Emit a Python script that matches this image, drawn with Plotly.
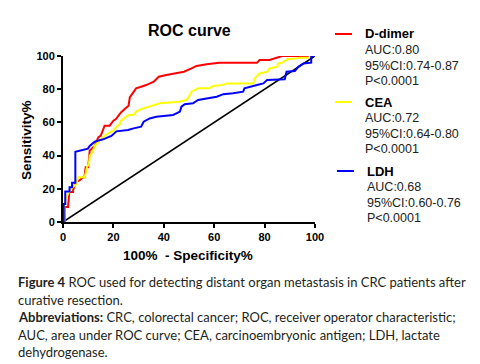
import plotly.graph_objects as go

# ---- data ----
ddimer_x = [0, 0.7, 0.7, 2, 2.5, 4, 4, 5, 6.5, 8, 8.5, 9, 10, 10.3, 10.6, 12.6, 14, 15, 16.5, 18.5, 20, 21, 22, 23,
            24.5, 26, 26.5, 28, 29, 31, 33, 36, 38, 41, 45, 48, 51, 53, 57, 62, 77, 78, 82, 84, 87, 97.5]
ddimer_y = [0, 0, 9, 9, 18, 18, 19, 24, 25, 27, 27, 33, 33, 39, 43, 46, 51, 52, 58, 58, 61, 62, 64, 66,
            68, 70, 75, 78, 80.5, 81.5, 82.5, 84.5, 87.5, 88.5, 89.5, 90.5, 92.5, 94, 95, 96, 96, 97.6, 97.6, 98.6, 100, 100]

cea_x = [0, 0.5, 0.5, 1, 2, 3.3, 5.3, 6, 8.6, 9.5, 10.3, 10.6, 11.7, 12.6, 14.6, 16.5, 18.5, 20, 21, 22.5, 23, 24.5,
         26, 28, 29, 31, 34, 36, 38.5, 46, 49, 50, 51, 53.6, 58, 59.6, 63.6, 65, 75.5, 76, 78, 81, 82, 85, 85.4, 87,
         89, 93, 94, 97.5]
cea_y = [0, 0, 10, 14, 17, 20, 23, 27, 27, 33, 35, 40, 42, 46, 49, 52, 54, 55, 57, 59, 61, 63,
         64.5, 64.5, 66.5, 68, 69.5, 70.5, 71.5, 72.5, 73.5, 75.5, 78.5, 80.5, 80.5, 82, 82.6, 83.5, 83.5, 86.5, 89.5,
         90.5, 92.5, 93.5, 95.5, 96, 98, 98.6, 99, 99]

ldh_x = [0, 0.3, 0.3, 0.9, 0.9, 2.6, 2.6, 3.6, 3.6, 4.9, 4.9, 7.3, 9.9, 10.6, 12.6, 15.9, 19.2, 21.2, 25.8, 28, 31,
         32, 34.4, 37, 43.7, 46.4, 47, 48.3, 51.6, 53.6, 58, 61, 63.6, 67.5, 71.5, 72, 77, 79.5, 81, 88, 88.7, 92,
         93.4, 95.4, 98.5, 98.5, 100]
ldh_y = [0, 0, 10.8, 10.8, 18.3, 18.3, 21, 21, 23.7, 23.7, 42.3, 43.4, 44.2, 45.8, 48.4, 49.8, 51.8, 54.6, 55.4, 56.4,
         57.4, 60.4, 62.4, 63.4, 64.5, 66.5, 69.5, 71, 71.5, 73.5, 74.5, 75.5, 77, 77.5, 78.5, 80.5, 82.5, 83.5, 85.5,
         86, 90.5, 91, 93.5, 95.5, 96, 100, 100]

ref_x = [0, 100]
ref_y = [0, 100]

tick_vals = [0, 20, 40, 60, 80, 100]

series_names = ["D-dimer", "CEA", "LDH"]
series_stats = [["AUC:0.80", "95%CI:0.74-0.87", "P<0.0001"],
                ["AUC:0.72", "95%CI:0.64-0.80", "P<0.0001"],
                ["AUC:0.68", "95%CI:0.60-0.76", "P<0.0001"]]
series_colors = ["#FF0000", "#FFFF00", "#0000FF"]

caption_lines = [
    "<b>Figure 4</b> ROC used for detecting distant organ metastasis in CRC patients after",
    "curative resection.",
    "<b>Abbreviations:</b> CRC, colorectal cancer; ROC, receiver operator characteristic;",
    "AUC, area under ROC curve; CEA, carcinoembryonic antigen; LDH, lactate",
    "dehydrogenase.",
]

# ---- layout geometry (pixels) ----
W, H = 480, 364
L, R, T, B = 63, 315, 56, 222


def px(xp):
    return (xp - L) / (R - L)


def py(yp):
    return (B - yp) / (B - T)


fig = go.Figure()
fig.add_trace(go.Scatter(x=ref_x, y=ref_y, mode="lines", line=dict(color="black", width=1.6), showlegend=False))
fig.add_trace(go.Scatter(x=ddimer_x, y=ddimer_y, mode="lines", line=dict(color=series_colors[0], width=2),
                         showlegend=False))
fig.add_trace(go.Scatter(x=cea_x, y=cea_y, mode="lines", line=dict(color=series_colors[1], width=2),
                         showlegend=False))
fig.add_trace(go.Scatter(x=ldh_x, y=ldh_y, mode="lines", line=dict(color=series_colors[2], width=2),
                         showlegend=False))

axis_font = dict(family="Liberation Sans, Arial", size=11, color="black", weight="bold")
fig.update_xaxes(range=[0, 100], tickvals=tick_vals, showline=True, linewidth=2, linecolor="black",
                 ticks="outside", ticklen=4, tickwidth=2, tickcolor="black", showgrid=False, zeroline=False,
                 tickfont=axis_font)
fig.update_yaxes(range=[0, 100], tickvals=tick_vals, showline=True, linewidth=2, linecolor="black",
                 ticks="outside", ticklen=4, tickwidth=2, tickcolor="black", showgrid=False, zeroline=False,
                 tickfont=axis_font)

ann = []
# title and axis titles
ann.append(dict(text="<b>ROC curve</b>", x=px(189), y=py(31), xref="paper", yref="paper", showarrow=False,
                font=dict(family="Liberation Sans, Arial", size=16, color="black"), xanchor="center", yanchor="middle"))
ann.append(dict(text="<b>100%  - Specificity%</b>", x=px(188), y=py(255), xref="paper", yref="paper",
                showarrow=False, font=dict(family="Liberation Sans, Arial", size=13.5, color="black"),
                xanchor="center", yanchor="middle"))
ann.append(dict(text="<b>Sensitivity%</b>", x=px(26), y=py(140), xref="paper", yref="paper", textangle=-90,
                showarrow=False, font=dict(family="Liberation Sans, Arial", size=13.5, color="black"),
                xanchor="center", yanchor="middle"))

# legend blocks
block_top = [34, 102, 171]
swatch_x = [(335, 352), (335, 352), (337, 354)]
text_x = [363, 363, 365]
shapes = []
for i in range(3):
    yt = block_top[i]
    shapes.append(dict(type="line", xref="paper", yref="paper", x0=px(swatch_x[i][0]), x1=px(swatch_x[i][1]),
                       y0=py(yt), y1=py(yt), line=dict(color=series_colors[i], width=2)))
    ann.append(dict(text="<b>" + series_names[i] + "</b>", x=px(text_x[i]), y=py(yt), xref="paper", yref="paper",
                    showarrow=False, xanchor="left", yanchor="middle",
                    font=dict(family="Liberation Sans, Arial", size=13, color="black")))
    for j, s in enumerate(series_stats[i]):
        ann.append(dict(text=s, x=px(text_x[i]), y=py(yt + 16 * (j + 1) - (1 if j == 2 else 0)), xref="paper",
                        yref="paper", showarrow=False, xanchor="left", yanchor="middle",
                        font=dict(family="Liberation Sans, Arial", size=12.5, color="#222222")))

# caption
cap_y = [282, 300, 317, 335, 352]
for line, yy in zip(caption_lines, cap_y):
    ann.append(dict(text=line, x=px(16), y=py(yy), xref="paper", yref="paper", showarrow=False,
                    xanchor="left", yanchor="middle",
                    font=dict(family="Lato, Open Sans, sans-serif", size=13, color="#231f20")))

fig.update_layout(width=W, height=H, margin=dict(l=L, r=W - R, t=T, b=H - B, autoexpand=False),
                  paper_bgcolor="white", plot_bgcolor="white", annotations=ann, shapes=shapes, showlegend=False)

fig.write_html("out.html", config={"displayModeBar": False},
               post_script="document.body.style.margin='0';")
